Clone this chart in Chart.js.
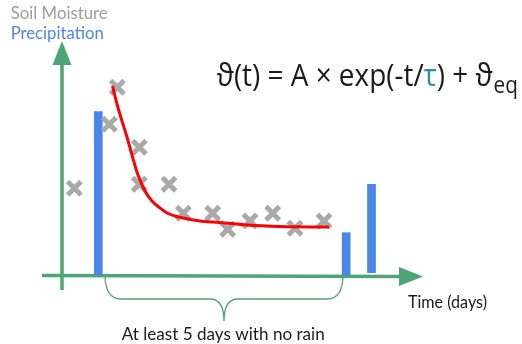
<!DOCTYPE html>
<html>
<head>
<meta charset="utf-8">
<title>Soil moisture decay after rain</title>
<script src="https://cdn.jsdelivr.net/npm/chart.js@4/dist/chart.umd.min.js"></script>
<style>
  html, body { margin: 0; padding: 0; background: #ffffff; }
  #wrap { position: relative; width: 522px; height: 344px; }
</style>
</head>
<body>
<div id="wrap"><canvas id="moistureChart" width="522" height="344"></canvas></div>
<script>
// ---- data (time in arbitrary day units, moisture / rain in arbitrary units) ----
const moistureDays   = [1.23, 4.73, 5.53, 7.73, 7.73, 10.7, 12.13, 15.07, 16.57, 18.8, 21.07, 23.3, 26.2];
const moistureValues = [8.67, 15.07, 18.77, 12.77, 9.07, 9.07, 6.17, 6.17, 4.57, 5.4, 6.17, 4.67, 5.4];

const rainDays    = [3.63, 28.42, 30.95];
const rainTops    = [16.33, 4.23, 9.07];
const rainBottoms = [0, 0, 0.23];

// fitted curve
const fitDays   = [5.05, 5.5, 5.97, 6.47, 7.0, 7.6, 8.3, 9.0, 9.8, 10.5, 11.3, 12.1, 13.8, 15.8, 18.5, 21.8, 26.7];
const fitValues = [18.9, 17.1, 15.5, 13.9, 12.0, 10.0, 8.4, 7.4, 6.7, 6.2, 5.9, 5.7, 5.4, 5.25, 5.0, 4.85, 4.8];

// axis extents (including arrow tips) and the dry-spell brace
const timeAxisRange = [-2.0, 36.1];
const moistAxisRange = [-1.5, 23.4];
const dryRange = [4.3, 28.1];

const legendLabels = ['Soil Moisture', 'Precipitation'];
const timeLabel = 'Time (days)';
const dryLabel = 'At least 5 days with no rain';

const COLORS = {
    axis: '#4da575',
    rain: '#4a86e8',
    moisture: '#a9a9a9',
    fit: '#ff0000',
    legendGray: '#9e9e9e',
    text: '#1a1a1a',
    tau: '#2a8fa8'
};

/**
 * Draw text, squeezed/stretched horizontally to a target width
 */
function drawFitted(ctx, text, x, y, font, color, targetWidth) {
    ctx.save();
    ctx.font = font;
    ctx.fillStyle = color;
    ctx.textBaseline = 'alphabetic';
    ctx.textAlign = 'left';
    const w = ctx.measureText(text).width;
    const k = targetWidth ? targetWidth / w : 1;
    ctx.translate(x, y);
    ctx.scale(k, 1);
    ctx.fillText(text, 0, 0);
    ctx.restore();
}

// Axes with arrow heads, drawn under the bars
const axesPlugin = {
    id: 'sketchAxes',
    beforeDatasetsDraw(chart) {
        const ctx = chart.ctx;
        const xs = chart.scales.x, ys = chart.scales.y;
        const x0 = xs.getPixelForValue(0), y0 = ys.getPixelForValue(0);
        const head = 24, half = 9.5;

        ctx.save();
        ctx.strokeStyle = COLORS.axis;
        ctx.fillStyle = COLORS.axis;
        ctx.lineWidth = 3.5;

        // vertical axis
        const yBottom = ys.getPixelForValue(moistAxisRange[0]);
        const yTip = ys.getPixelForValue(moistAxisRange[1]);
        ctx.beginPath();
        ctx.moveTo(x0, yBottom);
        ctx.lineTo(x0, yTip + head - 1);
        ctx.stroke();
        ctx.beginPath();
        ctx.moveTo(x0, yTip);
        ctx.lineTo(x0 - half, yTip + head);
        ctx.lineTo(x0 + half, yTip + head);
        ctx.closePath();
        ctx.fill();

        // horizontal axis
        const xLeft = xs.getPixelForValue(timeAxisRange[0]);
        const xTip = xs.getPixelForValue(timeAxisRange[1]);
        ctx.beginPath();
        ctx.moveTo(xLeft, y0 + 0.5);
        ctx.lineTo(xTip - head + 1, y0 + 1.5);
        ctx.stroke();
        ctx.beginPath();
        ctx.moveTo(xTip, y0 + 1.5);
        ctx.lineTo(xTip - head, y0 + 1.5 - half);
        ctx.lineTo(xTip - head, y0 + 1.5 + half);
        ctx.closePath();
        ctx.fill();
        ctx.restore();
    }
};

// Brace, formula and text labels
const labelsPlugin = {
    id: 'sketchLabels',
    afterDatasetsDraw(chart) {
        const ctx = chart.ctx;
        const xs = chart.scales.x, ys = chart.scales.y;
        const y0 = ys.getPixelForValue(0);

        // brace under the dry spell
        const xl = xs.getPixelForValue(dryRange[0]);
        const xr = xs.getPixelForValue(dryRange[1]);
        const xc = (xl + xr) / 2;
        const top = y0 + 2, mid = y0 + 24, tip = y0 + 46;
        ctx.save();
        ctx.strokeStyle = COLORS.axis;
        ctx.lineWidth = 1.3;
        ctx.beginPath();
        ctx.moveTo(xl, top);
        ctx.quadraticCurveTo(xl + 1, mid, xl + 16, mid);
        ctx.lineTo(xc - 14, mid);
        ctx.bezierCurveTo(xc - 4, mid, xc, mid + 8, xc, tip);
        ctx.bezierCurveTo(xc, mid + 8, xc + 4, mid, xc + 14, mid);
        ctx.lineTo(xr - 16, mid);
        ctx.quadraticCurveTo(xr - 1, mid, xr, top);
        ctx.stroke();
        ctx.restore();

        // legend
        drawFitted(ctx, legendLabels[0], 10.7, 18.5, '17px Lato', COLORS.legendGray, 97);
        drawFitted(ctx, legendLabels[1], 10.7, 38.5, '17px Lato', COLORS.rain, 93);

        // axis label and brace label
        drawFitted(ctx, timeLabel, 408, 308, '17.5px Lato', COLORS.text, 79);
        drawFitted(ctx, dryLabel, 121.7, 340, '17.5px Lato', COLORS.text, 203);

        // formula
        const font = '500 31px "Open Sans"';
        const parts = [
            ['\u03D1(t) = A \u00D7 exp(-t/', COLORS.text],
            ['\u03C4', COLORS.tau],
            [') + \u03D1', COLORS.text]
        ];
        ctx.save();
        ctx.font = font;
        let total = 0;
        parts.forEach(p => { total += ctx.measureText(p[0]).width; });
        const k = 276 / total;
        ctx.translate(216.7, 86);
        ctx.scale(k, 1);
        ctx.textBaseline = 'alphabetic';
        let cx = 0;
        parts.forEach(p => {
            ctx.fillStyle = p[1];
            ctx.fillText(p[0], cx, 0);
            cx += ctx.measureText(p[0]).width;
        });
        ctx.font = '500 23px "Open Sans"';
        ctx.fillStyle = COLORS.text;
        ctx.fillText('eq', cx + 1, 7);
        ctx.restore();
    }
};

const ctx = document.getElementById('moistureChart').getContext('2d');
window.moistureChart = new Chart(ctx, {
    type: 'scatter',
    data: {
        datasets: [
            {
                type: 'line',
                label: 'Fit',
                data: fitDays.map((d, i) => ({ x: d, y: fitValues[i] })),
                borderColor: COLORS.fit,
                borderWidth: 3,
                pointRadius: 0,
                cubicInterpolationMode: 'monotone',
                fill: false,
                order: 0
            },
            {
                type: 'scatter',
                label: legendLabels[0],
                data: moistureDays.map((d, i) => ({ x: d, y: moistureValues[i] })),
                pointStyle: 'crossRot',
                pointRadius: 9.5,
                pointBorderWidth: 5,
                borderColor: COLORS.moisture,
                backgroundColor: COLORS.moisture,
                order: 1
            },
            {
                type: 'bar',
                label: legendLabels[1],
                data: rainDays.map((d, i) => ({ x: d, y: [rainBottoms[i], rainTops[i]] })),
                backgroundColor: COLORS.rain,
                borderWidth: 0,
                barThickness: 8,
                grouped: false,
                order: 2
            }
        ]
    },
    options: {
        responsive: false,
        animation: false,
        devicePixelRatio: 1,
        layout: { padding: 0, autoPadding: false },
        plugins: {
            legend: { display: false },
            tooltip: { enabled: false }
        },
        scales: {
            x: { type: 'linear', display: false, min: -6.2, max: 46, offset: false },
            y: { type: 'linear', display: false, min: -6.9, max: 27.5 }
        }
    },
    plugins: [axesPlugin, labelsPlugin]
});
</script>
</body>
</html>
